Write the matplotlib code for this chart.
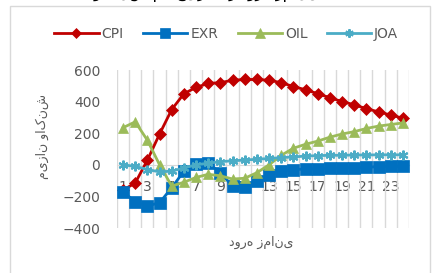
import numpy as np
import matplotlib
matplotlib.use("Agg")
import matplotlib.pyplot as plt
from matplotlib.lines import Line2D

# data
periods = np.arange(1, 25)
cpi = [-160, -115, 30, 195, 350, 450, 490, 515, 520, 535, 540, 540,
       535, 520, 495, 475, 450, 425, 400, 380, 355, 335, 315, 295]
exr = [-170, -235, -260, -240, -145, -40, 5, 10, -50, -135, -140, -100,
       -65, -40, -30, -27, -25, -22, -20, -18, -15, -12, -10, -8]
oil = [235, 272, 155, 0, -135, -110, -80, -60, -70, -90, -85, -50,
       0, 60, 105, 130, 150, 175, 195, 210, 230, 245, 255, 265]
joa = [0, -10, -30, -45, -40, -20, 0, 10, 20, 25, 30, 35,
       40, 45, 50, 55, 58, 60, 60, 62, 62, 63, 63, 63]
series_names = ["CPI", "EXR", "OIL", "JOA"]
ytick_values = [-400, -200, 0, 200, 400, 600]
xtick_labels = [str(p) for p in periods[::2]]

title_text = "واکنش متغیرها در دوره زمانی"
ylabel_text = "میزان واکنش"
xlabel_text = "دوره زمانی"

colors = {"CPI": "#C00000", "EXR": "#0070C0", "OIL": "#9BBB59", "JOA": "#4BACC6"}
markers = {"CPI": "D", "EXR": "s", "OIL": "^", "JOA": (6, 2, 0)}
msizes = {"CPI": 6.5, "EXR": 8.5, "OIL": 7.5, "JOA": 7}
grey = "#595959"

fig = plt.figure(figsize=(4.35, 2.73), dpi=100)
# chart frame (its bottom runs off the picture, as in the reference)
fig.patches.append(plt.Rectangle((10 / 435, -0.05), 420 / 435, 1.05 - 6 / 273,
                                 transform=fig.transFigure, fill=False,
                                 edgecolor="#D9D9D9", linewidth=1.0))

ax = fig.add_axes([117 / 435, 45 / 273, 292 / 435, 158 / 273])

for name, vals in zip(series_names, [cpi, exr, oil, joa]):
    mew = 1.5 if name == "JOA" else 0.5
    ax.plot(periods, vals, color=colors[name], linewidth=2.0,
            marker=markers[name], markersize=msizes[name],
            markerfacecolor=colors[name], markeredgecolor=colors[name],
            markeredgewidth=mew, zorder=3)

ax.set_xlim(0.5, 24.5)
ax.set_ylim(-400, 600)
ax.set_yticks(ytick_values)
ax.set_xticks(periods[::2])
ax.set_xticklabels(xtick_labels)
ax.set_xticks(np.arange(0.5, 25, 1), minor=True)
ax.grid(True, which="minor", axis="x", color="#D9D9D9", linewidth=1.0, zorder=0)
ax.tick_params(axis="both", which="both", length=0)
ax.tick_params(axis="y", labelsize=10, labelcolor=grey, pad=12)
ax.tick_params(axis="x", labelsize=10, labelcolor=grey, pad=11)

for side in ["left", "right", "top"]:
    ax.spines[side].set_visible(False)
ax.spines["bottom"].set_position(("data", 0))
ax.spines["bottom"].set_color("#D9D9D9")
ax.set_facecolor("none")

fig.text(0.097, 0.50, ylabel_text, rotation=90, ha="center", va="center",
         fontsize=9, color=grey)
fig.text(0.60, 0.113, xlabel_text, ha="center", va="center",
         fontsize=9, color=grey)
# title is clipped at the top edge in the reference
fig.text(0.475, 1 + 2 / 273, title_text, ha="center", va="baseline",
         fontsize=11, color="black")

handles = [Line2D([], [], color=colors[n], marker=markers[n], markersize=msizes[n] - 1,
                  linewidth=2.0, markeredgewidth=1.5 if n == "JOA" else 0.5)
           for n in series_names]
fig.legend(handles, series_names, loc="center", bbox_to_anchor=(0.52, 0.875),
           ncol=4, frameon=False, fontsize=10, labelcolor=grey,
           handlelength=3.2, handletextpad=0.2, columnspacing=1.4)

fig.savefig("out.png", dpi=100)
